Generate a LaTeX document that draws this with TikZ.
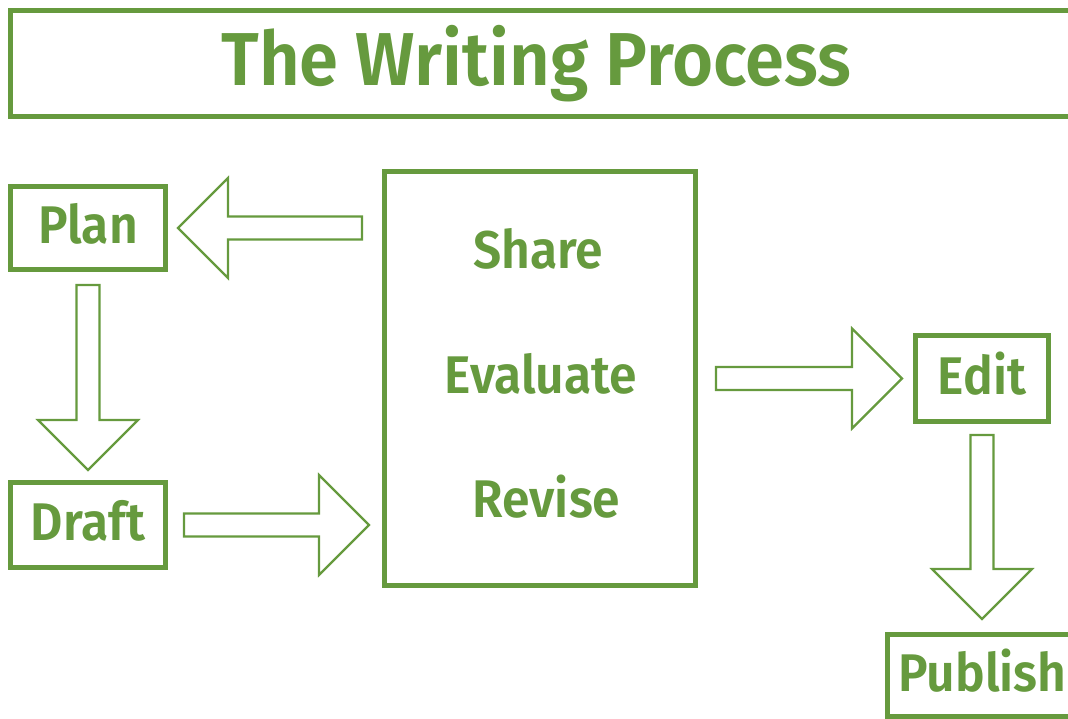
\documentclass[tikz,border=0pt]{standalone}
\usepackage{fontspec}
\setmainfont{Fira Sans}[BoldFont={* SemiBold},FakeStretch=0.94]
\usepackage{tikz}
\usetikzlibrary{positioning,calc}
\definecolor{wgreen}{RGB}{102,154,62}
\tikzset{stage/.style={draw=wgreen,line width=5pt,text=wgreen,font=\bfseries\fontsize{53}{60}\selectfont,text height=31pt,text depth=0pt,inner sep=0pt}}
\tikzset{word/.style={text=wgreen,font=\bfseries\fontsize{53}{60}\selectfont,anchor=base,inner sep=0pt}}
\tikzset{fatarrow/.style={draw=wgreen,line width=2.2pt,line join=miter,to path={
  ($(\tikztostart)!11.5pt!90:(\tikztotarget)$) --
  ($(\tikztotarget)!50pt!(\tikztostart)!11.5pt!90:(\tikztotarget)$) --
  ($(\tikztotarget)!50pt!(\tikztostart)!50pt!90:(\tikztotarget)$) --
  (\tikztotarget) --
  ($(\tikztotarget)!50pt!(\tikztostart)!50pt!-90:(\tikztotarget)$) --
  ($(\tikztotarget)!50pt!(\tikztostart)!11.5pt!-90:(\tikztotarget)$) --
  ($(\tikztostart)!11.5pt!-90:(\tikztotarget)$) -- cycle}}}
\begin{document}
\begin{tikzpicture}[x=1pt,y=-1pt]
        \useasboundingbox (0,0) rectangle (1068,719);
        % title
        \node[stage,minimum width=1067pt,minimum height=106pt] (titlebox) at (544,63.5) {};
        \node[word,font=\bfseries\fontsize{75}{82}\selectfont] (title) at (536.5,86) {The Writing Process};
        % stages
        \node[stage,minimum width=155pt,minimum height=83pt] (plan) at (88,228) {Plan};
        \node[stage,minimum width=155pt,minimum height=85pt] (draft) at (88,525) {Draft};
        \node[stage,minimum width=311pt,minimum height=414pt] (review) at (540,378.5) {};
        \node[word] (share) at (538,269) {Share};
        \node[word] (evaluate) at (541,393) {Evaluate};
        \node[word] (revise) at (546.5,517) {Revise};
        \node[stage,minimum width=133pt,minimum height=86pt] (edit) at (982,378.5) {Edit};
        \node[stage,minimum width=190pt,minimum height=82pt] (publish) at (982.5,675.5) {Publish};
        % arrows
        \draw[fatarrow] ($(plan.east -| review.west)+(-20,0)$) to ($(plan.east)+(10,0)$);
        \draw[fatarrow] ($(plan.south)+(0,13)$) to ($(plan.south |- draft.north)+(0,-10)$);
        \draw[fatarrow] ($(draft.east)+(16,0)$) to ($(draft.east -| review.west)+(-13,0)$);
        \draw[fatarrow] ($(edit.west -| review.east)+(18,0)$) to ($(edit.west)+(-11,0)$);
        \draw[fatarrow] ($(edit.south)+(0,11)$) to ($(edit.south |- publish.north)+(0,-13)$);
\end{tikzpicture}
\end{document}
